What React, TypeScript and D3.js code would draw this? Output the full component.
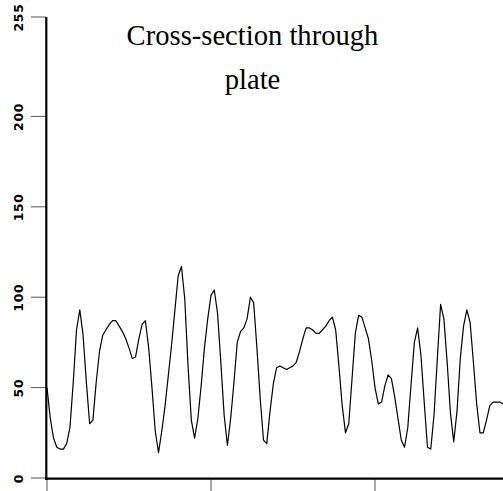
import React from "react";
import * as d3 from "d3";

const values: number[] = [
  50, 33, 22, 17, 16, 16, 19, 28, 53, 82, 93, 79, 53, 30, 32, 53, 70, 79, 82, 85, 87, 87, 84, 81,
  77, 72, 66, 67, 77, 85, 87, 72, 50, 26, 14, 26, 40, 57, 74, 93, 112, 117, 99, 62, 32, 22, 33,
  51, 72, 88, 101, 104, 91, 64, 35, 18, 33, 53, 75, 81, 83, 88, 100, 97, 72, 44, 21, 19, 37, 52,
  61, 62, 61, 60, 61, 62, 64, 70, 77, 83, 83, 82, 80, 80, 82, 84, 87, 89, 82, 62, 40, 25, 30, 55,
  80, 90, 89, 83, 77, 65, 50, 41, 42, 51, 57, 55, 45, 33, 21, 17, 28, 52, 75, 83, 68, 42, 17, 16,
  35, 66, 96, 88, 64, 36, 20, 37, 66, 84, 93, 86, 64, 41, 25, 25, 32, 40, 42, 42, 42, 41,
];
const yTicks: number[] = [0, 50, 100, 150, 200, 255];
const xTicks: number[] = [0, 50, 100, 150];
const titleLines: string[] = ["Cross-section through", "plate"];

export default function App() {
  const W = 503;
  const H = 491;
  const x = d3.scaleLinear().domain([0, 50]).range([47, 211]);
  const y = d3.scaleLinear().domain([0, 255]).range([478, 17]);
  const line = d3
    .line<number>()
    .x((_, i) => x(i))
    .y((d) => y(d));

  return (
    <svg
      width={W}
      height={H}
      style={{ position: "absolute", left: 0, top: 0, background: "#fff" }}
    >
      <rect x={0} y={0} width={W} height={H} fill="#fff" />
      {titleLines.map((t, i) => (
        <text
          key={t}
          x={252.5}
          y={45 + i * 44}
          textAnchor="middle"
          fontFamily="'Liberation Serif', 'Times New Roman', serif"
          fontSize={28.6}
          fill="#000"
        >
          {t}
        </text>
      ))}
      {yTicks.map((t) => (
        <g key={"y" + t}>
          <line x1={31} x2={46} y1={y(t)} y2={y(t)} stroke="#555" strokeWidth={1} />
          <text
            transform={`translate(23,${y(t) + 0.5}) rotate(-90)`}
            textAnchor="middle"
            fontFamily="'DejaVu Sans', sans-serif"
            fontWeight="bold"
            fontSize={12.5}
            letterSpacing={0.6}
            fill="#000"
          >
            {t}
          </text>
        </g>
      ))}
      {xTicks.map((t) => (
        <line key={"x" + t} x1={x(t)} x2={x(t)} y1={479} y2={491} stroke="#555" strokeWidth={1} />
      ))}
      <path d={line(values) || ""} fill="none" stroke="#000" strokeWidth={1.2} strokeLinejoin="round" />
      <line x1={46.3} x2={46.3} y1={y(255)} y2={480} stroke="#000" strokeWidth={2.2} />
      <line x1={45} x2={W} y1={478.7} y2={478.7} stroke="#000" strokeWidth={2.2} />
    </svg>
  );
}
